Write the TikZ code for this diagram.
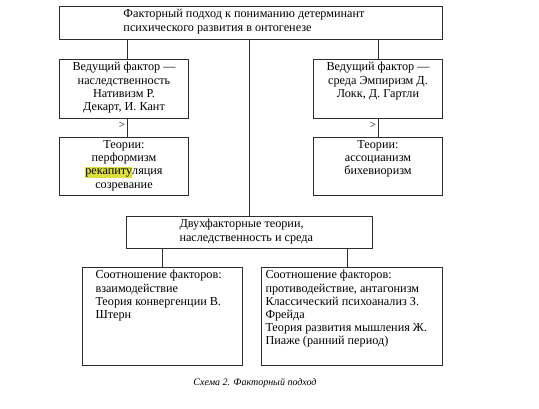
\documentclass[tikz,border=0pt]{standalone}
\usepackage{fontspec}
\setmainfont{Liberation Serif}
\usetikzlibrary{positioning}
\definecolor{hl}{RGB}{222,222,60}
\definecolor{ln}{RGB}{45,45,45}
\newcommand{\bxtext}[4]{\begin{minipage}[c][#2][t]{#1}\vspace{3pt}#3#4\end{minipage}}
\begin{document}
\begin{tikzpicture}[x=1pt,y=1pt,
  box/.style={draw=ln, line width=1pt, inner sep=0pt, anchor=north west,
    font=\fontsize{12.2}{13.2}\selectfont},
  conn/.style={draw=ln, line width=1pt},
  gtmark/.style={inner sep=0pt, font=\fontsize{11}{12}\selectfont},
  capstyle/.style={inner sep=0pt, font=\fontsize{10}{12}\selectfont\itshape}]
\useasboundingbox (0,0) rectangle (539,-409);
\node[box] (top) at (59,-6) {\bxtext{383pt}{33pt}{\raggedright\leftskip=64pt}{Факторный подход к пониманию детерминант\\психического развития в онтогенезе}};
\node[box] (left1) at (59,-59) {\bxtext{129pt}{59pt}{\centering}{Ведущий фактор —\\наследственность\\Нативизм Р.\\Декарт, И. Кант}};
\node[box] (left2) at (59,-137) {\bxtext{129pt}{58pt}{\centering}{Теории:\\перформизм\\{\setlength{\fboxsep}{0pt}\colorbox{hl}{\rule[-2.5pt]{0pt}{10.5pt}рекапиту}}ляция\\созревание}};
\node[box] (right1) at (313,-59) {\bxtext{129pt}{59pt}{\centering}{Ведущий фактор —\\среда Эмпиризм Д.\\Локк, Д. Гартли}};
\node[box] (right2) at (313,-137) {\bxtext{129pt}{58pt}{\centering}{Теории:\\ассоцианизм\\бихевиоризм}};
\node[box] (mid) at (126,-216) {\bxtext{246pt}{32pt}{\raggedright\leftskip=53pt}{Двухфакторные теории,\\наследственность и среда}};
\node[box] (bl) at (82,-267) {\bxtext{160pt}{98pt}{\raggedright\leftskip=13pt}{Соотношение факторов:\\взаимодействие\\Теория конвергенции В.\\Штерн}};
\node[box] (br) at (261,-267) {\bxtext{181pt}{98pt}{\raggedright\leftskip=4pt}{Соотношение факторов:\\противодействие, антагонизм\\Классический психоанализ З.\\Фрейда\\Теория развития мышления Ж.\\Пиаже (ранний период)}};
\node[gtmark] (m1) at (122,-125) {>};
\node[gtmark] (m2) at (373,-125) {>};
\node[capstyle] (cap) at (255,-383) {Схема 2. Факторный подход};
\draw[conn] ([xshift=3.5pt]left1.north) -- ([xshift=3.5pt]left1.north |- top.south);
\draw[conn] (mid.north) -- (mid.north |- top.south);
\draw[conn] (right1.north) -- (right1.north |- top.south);
\draw[conn] ([xshift=3.5pt]left1.south) -- ([xshift=3.5pt]left2.north);
\draw[conn] (right1.south) -- (right2.north);
\draw[conn] (bl.north) -- (bl.north |- mid.south);
\draw[conn] ([xshift=-4.5pt]br.north) -- ([xshift=-4.5pt]br.north |- mid.south);
\end{tikzpicture}
\end{document}
